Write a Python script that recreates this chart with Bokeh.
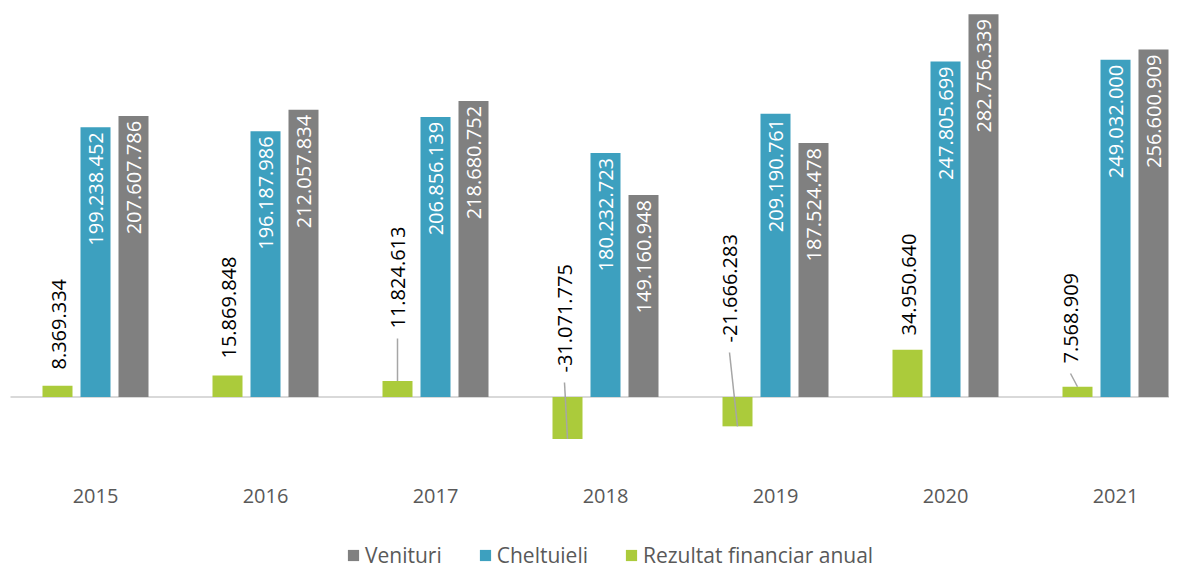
from bokeh.plotting import figure
from bokeh.models import ColumnDataSource, Range1d, Legend, LegendItem
from bokeh.core.properties import value
from bokeh.embed import file_html
from bokeh.resources import INLINE

# ---------------- data ----------------
years = ["2015", "2016", "2017", "2018", "2019", "2020", "2021"]
venituri = [207607786, 212057834, 218680752, 149160948, 187524478, 282756339, 256600909]
cheltuieli = [199238452, 196187986, 206856139, 180232723, 209190761, 247805699, 249032000]
rezultat = [8369334, 15869848, 11824613, -31071775, -21666283, 34950640, 7568909]

series_names = ["Venituri", "Cheltuieli", "Rezultat financiar anual"]

# ---------------- style / layout ----------------
C_GRAY = "#808080"
C_BLUE = "#3da0bf"
C_GREEN = "#abcb3b"
FONT = "Open Sans"

W, H = 1169, 569

PX_X = 170.0          # pixels per category
PX_Y = 1.354e-6       # pixels per unit value
ZERO_PX = 396.5       # zero line, pixels from top
x_start = -95.0 / PX_X
x_end = x_start + W / PX_X
y_end = ZERO_PX / PX_Y
y_start = y_end - H / PX_Y

OFF = 38.0 / PX_X
BW = 30.0 / PX_X

# green label placement (screen px): offset of label start from zero line, and x shift
g_lab_dy = [-27.5, -38.5, -68.5, -24.5, -54.5, -61.5, -33.5]
g_lab_dx = [1, 1, 0, -3, -8, 1, -7]
g_leader = [False, False, True, True, True, False, True]
YEAR_DY = 99          # year labels below the zero line (px)


def fmt(v):
    return f"{v:,}".replace(",", ".")


xs = list(range(len(years)))
src = ColumnDataSource(dict(
    x=xs,
    xg=[x - OFF for x in xs],
    xb=[x for x in xs],
    xv=[x + OFF for x in xs],
    ven=venituri, chel=cheltuieli, rez=rezultat,
    ven_t=[fmt(v) for v in venituri],
    chel_t=[fmt(v) for v in cheltuieli],
    rez_t=[fmt(v) for v in rezultat],
    year=years,
    zero=[0] * len(xs),
    gdy=g_lab_dy, gdx=g_lab_dx,
))

p = figure(width=W, height=H, output_backend="svg", toolbar_location=None,
           x_range=Range1d(x_start, x_end), y_range=Range1d(y_start, y_end),
           min_border=0)
p.outline_line_color = None
p.grid.visible = False
p.xaxis.visible = False
p.yaxis.visible = False
p.background_fill_color = "white"
p.border_fill_color = "white"

# zero line
p.segment(x0=[-0.5], y0=[0], x1=[len(years) - 0.5], y1=[0],
          line_color="#d9d9d9", line_width=2)

r_g = p.vbar(x="xg", top="rez", bottom=0, width=BW, source=src,
             fill_color=C_GREEN, line_color=None)
r_b = p.vbar(x="xb", top="chel", bottom=0, width=BW, source=src,
             fill_color=C_BLUE, line_color=None)
r_v = p.vbar(x="xv", top="ven", bottom=0, width=BW, source=src,
             fill_color=C_GRAY, line_color=None)

# white labels inside blue / gray bars
for xcol, ycol, tcol in (("xb", "chel", "chel_t"), ("xv", "ven", "ven_t")):
    p.text(x=xcol, y=ycol, text=tcol, source=src, angle=1.5707963,
           text_align="right", text_baseline="middle", y_offset=5,
           text_color="white", text_font=value(FONT), text_font_size=value("20px"))

# green labels (manually placed above the zero line)
p.text(x="xg", y="zero", text="rez_t", source=src, angle=1.5707963,
       text_align="left", text_baseline="middle", x_offset="gdx", y_offset="gdy",
       text_color="#000000", text_font=value(FONT), text_font_size=value("20px"))

# leader lines
lx0, ly0, lx1, ly1 = [], [], [], []
for i in xs:
    if g_leader[i]:
        lx0.append(i - OFF + g_lab_dx[i] / PX_X)
        ly0.append(-(g_lab_dy[i] + 10) / PX_Y)
        lx1.append(i - OFF)
        ly1.append(rezultat[i])
p.segment(x0=lx0, y0=ly0, x1=lx1, y1=ly1, line_color="#a6a6a6", line_width=1.5)

# category (year) labels
p.text(x="x", y="zero", text="year", source=src, y_offset=YEAR_DY,
       text_align="center", text_baseline="middle",
       text_color="#595959", text_font=value(FONT), text_font_size=value("20px"))

legend = Legend(items=[
    LegendItem(label=series_names[0], renderers=[r_v]),
    LegendItem(label=series_names[1], renderers=[r_b]),
    LegendItem(label=series_names[2], renderers=[r_g]),
], orientation="horizontal", location=(346, 0))
legend.glyph_width = 14
legend.glyph_height = 14
legend.label_standoff = 5
legend.spacing = 36
legend.padding = 0
legend.margin = 0
legend.border_line_alpha = 0
legend.background_fill_alpha = 0
legend.label_text_font = FONT
legend.label_text_font_size = "21px"
legend.label_text_color = "#595959"
p.add_layout(legend, "center")

open("out.html", "w").write(file_html(p, INLINE))
